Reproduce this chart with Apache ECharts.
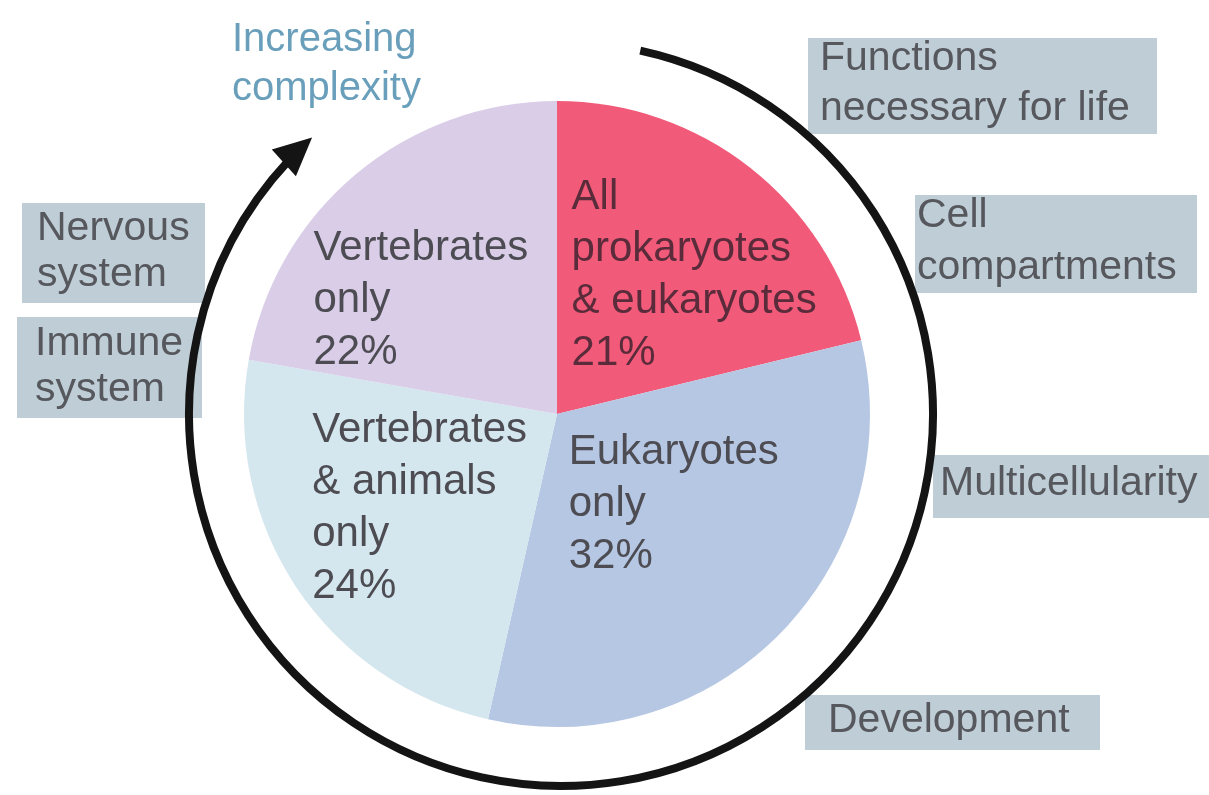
<!DOCTYPE html>
<html>
<head>
<meta charset="utf-8">
<script src="https://cdn.jsdelivr.net/npm/echarts@6/dist/echarts.min.js"></script>
<style>
  html, body { margin: 0; padding: 0; background: #fff; }
  #chart { width: 1209px; height: 795px; }
</style>
</head>
<body>
<div id="chart"></div>
<script>
var sliceNames = ['All\nprokaryotes\n& eukaryotes', 'Eukaryotes\nonly', 'Vertebrates\n& animals\nonly', 'Vertebrates\nonly']
var sliceValues = [21, 32, 24, 22]
var sliceColors = ['#f15b79', '#b5c7e3', '#d4e6ee', '#d9cde8']
var noteLabels = [
  ['Functions', 'necessary for life'],
  ['Cell', 'compartments'],
  ['Multicellularity'],
  ['Development'],
  ['Nervous', 'system'],
  ['Immune', 'system']
]
var arrowLabel = ['Increasing', 'complexity']

var FONT = 'Liberation Sans, Arial, sans-serif'
var pieCenter = [557, 414]
var pieRadius = 313

// shift of each slice label from its default inside anchor, left aligned
var labelShift = [[-84, -13], [-102, -21], [-112, 6], [-141, 9]]

// [left, top, width, height, textLeft, firstLineY, lineGap]
var noteBoxes = [
  [808, 38, 349, 96, 820, 59, 50],
  [915, 195, 282, 98, 917, 216, 52],
  [933, 455, 276, 63, 940, 484, 0],
  [805, 695, 295, 55, 828, 721, 0],
  [22, 203, 183, 100, 37, 229, 46],
  [17, 317, 185, 101, 35, 344, 46]
]

var graphics = []

noteBoxes.forEach(function (b, i) {
  graphics.push({
    type: 'rect', z: 1, silent: true,
    shape: { x: b[0], y: b[1], width: b[2], height: b[3] },
    style: { fill: '#bfced6' }
  })
  noteLabels[i].forEach(function (line, j) {
    graphics.push({
      type: 'text', z: 2, silent: true,
      style: {
        x: b[4], y: b[5] + j * b[6], text: line,
        font: '41px ' + FONT, fill: '#56585e',
        align: 'left', verticalAlign: 'middle'
      }
    })
  })
})

arrowLabel.forEach(function (line, j) {
  graphics.push({
    type: 'text', z: 2, silent: true,
    style: {
      x: 232, y: 40 + j * 49, text: line,
      font: '40px ' + FONT, fill: '#6a9fbc',
      align: 'left', verticalAlign: 'middle'
    }
  })
})

// the curved "increasing complexity" arrow round the pie
var arc = { cx: 561, cy: 414, r: 372 }
var deg = Math.PI / 180
var tipAngle = 228 * deg
var tip = [arc.cx + arc.r * Math.cos(tipAngle), arc.cy + arc.r * Math.sin(tipAngle)]
var tan = [-Math.sin(tipAngle), Math.cos(tipAngle)]
var nrm = [Math.cos(tipAngle), Math.sin(tipAngle)]
var headLen = 38
var headHalf = 18
var base = [tip[0] - headLen * tan[0], tip[1] - headLen * tan[1]]

graphics.push({
  type: 'arc', z: 5, silent: true,
  shape: { cx: arc.cx, cy: arc.cy, r: arc.r, startAngle: -77.7 * deg, endAngle: 223 * deg, clockwise: true },
  style: { stroke: '#141414', lineWidth: 8, fill: null, lineCap: 'butt' }
})
graphics.push({
  type: 'polygon', z: 5, silent: true,
  shape: {
    points: [
      tip,
      [base[0] + headHalf * nrm[0], base[1] + headHalf * nrm[1]],
      [base[0] - headHalf * nrm[0], base[1] - headHalf * nrm[1]]
    ]
  },
  style: { fill: '#141414' }
})

var chart = echarts.init(document.getElementById('chart'))
chart.setOption({
  backgroundColor: '#fff',
  animation: false,
  graphic: graphics,
  series: [{
    type: 'pie',
    center: pieCenter,
    radius: pieRadius,
    startAngle: 90,
    clockwise: true,
    silent: true,
    emphasis: { disabled: true },
    itemStyle: { borderWidth: 0 },
    labelLine: { show: false },
    label: {
      show: true,
      position: 'inside',
      formatter: function (p) { return p.name + '\n' + p.value + '%' },
      fontFamily: FONT,
      fontSize: 42,
      lineHeight: 52,
      color: '#4d4c53'
    },
    labelLayout: function (p) {
      var s = labelShift[p.dataIndex]
      return { dx: s[0], dy: s[1], align: 'left' }
    },
    data: sliceNames.map(function (n, i) {
      var item = { name: n, value: sliceValues[i], itemStyle: { color: sliceColors[i] } }
      if (i === 0) item.label = { color: '#5a2b3a' }
      return item
    })
  }]
})
</script>
</body>
</html>
